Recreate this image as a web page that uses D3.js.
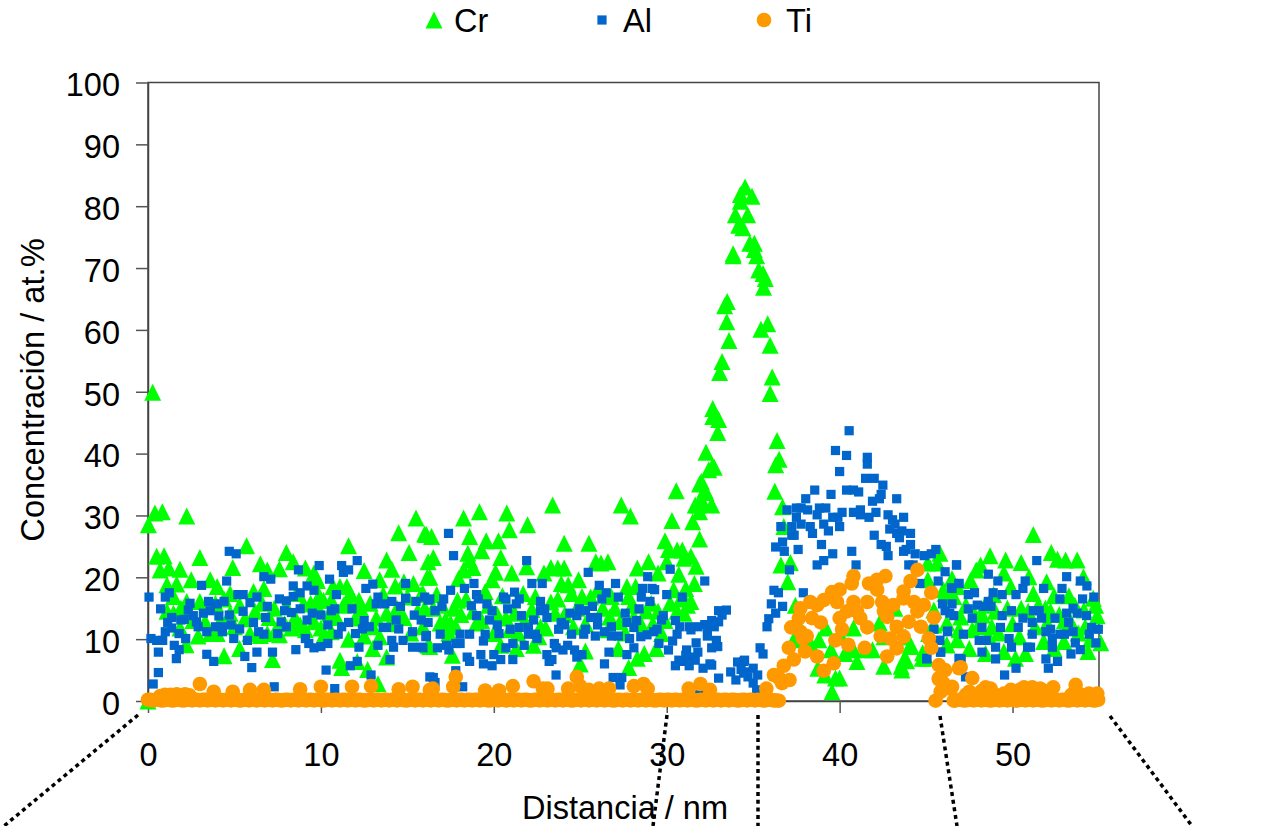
<!DOCTYPE html>
<html>
<head>
<meta charset="utf-8">
<script src="https://d3js.org/d3.v7.min.js"></script>
<style>
  body { margin: 0; background: #fff; }
  text { font-family: "Liberation Sans", Arial, sans-serif; fill: #000; }
</style>
</head>
<body>
<div id="chart"></div>
<script>
// values, [distance nm, concentration at.%]
var xTicks = [0, 10, 20, 30, 40, 50];
var yTicks = [0, 10, 20, 30, 40, 50, 60, 70, 80, 90, 100];

var crPoints = [
  [0.27,49.9],[0.02,28.5],[0.4,30.4],[0.83,30.6],[2.24,29.9],[0.5,23.4],[0.93,23.5],[0.7,21.2],[1.2,21.5],[1.85,21.3],
  [1.1,18.8],[1.66,18.9],[2.5,19.6],[3,23.2],[3.6,19.6],[4,18.5],[5.7,25.1],[4.9,21.6],[6.5,22.2],[6.9,21.2],
  [6.7,18.2],[7.6,21.4],[8,24],[8.4,22.5],[9.1,21.5],[9.7,20.1],[9.8,19.5],[10.7,18.5],[11.5,18.5],[11.6,25.1],
  [12.5,21.1],[13.8,22.8],[14.1,21.3],[14.5,27.2],[15.1,24],[15.5,29.6],[16.1,26.9],[16.2,22.5],[16.15,20],[14.3,18.6],
  [14.8,19.3],[13.4,19.6],[15.35,19],[2.2,9.1],[4.4,7.3],[5.3,8.5],[7.2,6.7],[11.1,6.6],[11.2,5.4],[12.1,6.4],
  [12.7,5.1],[13.3,2.8],[13,8.5],[13.8,7.1],[0,0],[1.47,16.9],[2.24,16.1],[3,16.1],[1.47,14.2],[1.85,11.8],
  [3.6,10.9],[4.75,17.4],[6.1,17.7],[5.9,10.9],[6.9,10.9],[7.6,10.7],[8.8,12.3],[10.15,16.3],[10,11.8],[10.6,16.3],
  [11.6,16.1],[12.85,15.8],[13.8,14.2],[13.2,13.4],[15.9,17.4],[15.9,12],[16.3,8.8],[8.6,17.4],[9.4,15.8],[9.8,15.3],
  [8,15.3],[4.75,14.2],[4,10.9],[11.1,18.5],[11.7,17.4],[12.2,16.3],[10.5,14.2],[9.6,20.7],
  [1.1,14.5],[1.9,15],[2.6,13],[2.9,10.5],[3.3,12.8],[3.9,15.8],[4.2,13],[4.4,16.5],[5,12],[5.3,15.5],
  [5.6,13.3],[6.2,14.5],[6.5,10.6],[6.6,15.8],[7,13.5],[7.3,15],[7.4,11.5],[7.9,12.5],[8.3,11.8],[8.5,13.5],
  [9,15.7],[9.1,11.5],[9.6,12.8],[9.9,17],[10.2,10.8],[10.6,11.2],[10.9,13.5],[11.3,15.5],[11.6,10],[12,13.4],
  [12.3,15],[12.5,10.5],[13,12],[13.4,10.4],[13.6,17.2],[14,12.5],[14.4,15],[14.8,13.5],[15,16.8],[15.2,11],
  [15.6,14.5],[16,15],
  [18.25,29.6],[19.17,30.6],[20.75,30.4],[21.95,28.5],[23.4,31.7],[27.37,31.7],[27.9,29.9],[30.55,34],[32,35.5],[32.27,33.7],
  [31.65,31.7],[32.1,32],[31.9,30.6],[30.3,29.2],[31.5,29],[20.9,27.7],[18.6,26.6],[16,27],[16.4,26.6],[19.56,25.9],
  [20.27,25.9],[19.3,24.3],[20.4,23.2],[18.5,23.9],[18.6,22.8],[16.5,23.2],[24.07,25.5],[25.5,25.5],[29.9,25.9],[30.1,24.5],
  [30.6,24.4],[30.9,24.4],[31.9,26.2],[31.4,23.4],[31,23.1],[31.7,21.8],[30,22.5],[25.9,22.5],[26.2,22.3],[26.6,22.5],
  [28.95,22.5],[28.3,21.5],[29.5,20.7],[30.7,20.5],[23.3,21.6],[23.7,21.5],[24.07,21.5],[22.9,20.7],[21.9,21.7],[21.04,20.7],
  [20.1,20.8],[18.8,21.6],[18.25,21.2],[17.96,19.8],[16.3,20],[19.9,19.6],[23.9,19],[24.3,18.8],[24.9,19.6],[27.7,18.5],
  [28.2,18.5],[31.1,18.2],[25.1,16.9],[24.5,17.4],[15.8,17.2],[16.7,17.2],[21.7,17.4],[22.4,16.9],[19.5,17.7],[31.4,16.1],
  [30.4,18],[26.8,16.9],[27.8,16.9],[26.7,13.6],[31,14.2],[29.1,15.8],[17.7,15],[17.9,16.3],[23.55,14.2],[20.7,13.4],
  [21.2,14.2],[17.2,13.1],[17.5,12.6],[16.9,12.6],[19,12.6],[28.1,13.6],[29.7,10.9],[20,10.9],[27.2,8.5],[25.3,8.1],
  [29.4,8.5],[28.7,7.7],[28.3,6.9],[27.8,5.4],[25,6],[22.3,9],[21.3,8.5],[20.4,9],[17.6,7.4],[16.2,9],[22.6,10.4],
  [16.5,15],[17,15.5],[17.4,11],[17.8,12],[18.1,14],[18.4,16.5],[18.8,14.5],[19.3,13],[19.7,15.5],[20.2,14],
  [20.5,17],[20.9,11.5],[21.4,11],[21.8,13],[22.2,14.8],[22.7,12],[23,11.8],[23.3,16],[23.7,16.5],[24.1,14],
  [24.6,12],[24.8,15],[25.3,12.5],[25.6,16.8],[26,18],[26.3,15],[26.6,11.5],[27,15],[27.3,12.8],[27.6,11],
  [28,15.5],[28.5,12.5],[28.8,14.6],[29.2,12.5],[29.5,14.5],[29.9,13],[30.2,15.8],[30.6,14.5],[30.8,16.5],[31.2,15.5],
  [31.6,19],
  [34.53,83.1],[34.93,81.6],[34.26,81.9],[34.26,80.8],[33.97,78.6],[34.68,78.6],[34.16,76.9],[34.4,76.5],[34.8,74],[35.07,74],
  [35.07,73],[35.2,72],[33.84,72.3],[33.84,72],[35.32,69.7],[35.57,69.1],[35.7,68.3],[35.6,66.9],[33.5,64.6],[33.35,63.9],
  [33.47,61.3],[33.6,58.3],[35.45,60.1],[35.84,61],[35.98,57.5],[33.2,54.9],[33.06,53.1],[36.1,52.4],[35.98,49.7],[32.66,47.3],
  [32.66,46],[33,45.5],[32.95,43.4],[36.38,42.1],[32.27,40.2],[36.5,39.1],[36.3,38.2],[32.43,37.4],[32.75,37.8],[32.64,37.9],
  [31.9,35.1],[32.2,34.1],[31.8,31.7],[32.6,31.7],[36.25,33.9],[36.7,31.4],[36.77,28.2],[36.6,22],[37.15,22.4],[37,19.3],
  [37.44,15.5],[37.35,9.9],[37.5,13],[38.8,9.9],[39.2,11.8],[39.5,8.3],[38.74,5.3],[39.14,4.2],[40,3.7],[39.76,3.7],
  [39.56,1.5],[41,6.4],[40.8,8.3],[40.3,7.7],[41.9,8.3],[41.5,8.3],[42.55,5.6],[43.56,5.6],[43.7,6.6],[44.1,9.1],
  [42.3,12.6],[42.56,10.4],[43.8,10.4],[43.2,15],[45,6.9],[44.8,7.8],[46.2,9.1],[46.8,9.9],[45.1,19.6],[45.8,23.9],
  [45.1,22.3],[45.65,22.3],[46.5,19.8],[46.8,18.5],[46,18],[45.45,14.7],[46.2,12.6],[45.15,10.9],[40,10.9],[38.1,10.4],
  [38.4,8.8],[40.8,11.8],
  [51.2,26.9],[52.24,24],[52.6,22.9],[53.07,22.8],[53.74,22.8],[48.7,23.5],[48.15,22],[49.6,22.8],[50.5,22.4],[47.57,19.5],
  [47.9,21.2],[49.5,20.7],[50.95,20.1],[51.97,19.3],[54.1,20.1],[54.67,16.6],[51.2,17.4],[52.4,17],[53.26,17],[54.9,13.8],
  [55.1,9.4],[54.36,8],[50.17,6.9],[50.75,7.7],[48.44,7.7],[46.2,9.1],[44.77,6.9],[43.87,6.5],[43.6,5],[44.1,8.8],
  [47.67,11.5],[48.8,12],[50.4,10.4],[51.8,9.6],[52.97,9.6],[47,13.6],[48.25,13.9],[49.9,18.5],[51.3,12],[54.13,14.7],
  [53.36,12.8],[46.1,17.4],[46.6,16.9],[52,12.6],[48.9,17.2],[45.45,12.3],
  [47.3,15.5],[47.8,14],[48.4,15.5],[48.6,10.5],[49,14.5],[49.2,11],[49.7,15],[50,12.5],[50.5,15],[50.9,14.5],
  [51.5,15.5],[51.9,15],[52.2,14.5],[52.7,14],[53,13],[53.6,15.5],[53.8,11],[54.2,12],[54.5,10],[54.8,15.5],
  [46.9,11.5],[47.5,8.5],[48,12],[49.5,8],[52.4,8.5]
];

var alPoints = [
  [0.06,16.8],[0.17,10.1],[0.5,9.8],[0.85,9.8],[0.6,7.9],[0.6,4.6],[0.3,2.75],[0.73,14.9],[1,16.8],[1.23,17.5],
  [1,11.2],[1.14,12.7],[1.37,13.5],[1.37,11.8],[1.52,9],[1.8,8.3],[1.64,6.85],[1.8,10.9],[2.18,10.1],[1.9,13.1],
  [2.1,13.2],[2.33,14.7],[2.43,15.8],[2.62,13.8],[2.8,12.8],[2.9,12],[3.1,18.7],[3.2,14.2],[3.6,14.6],[3.5,16.1],
  [3.4,11.2],[3.4,7.55],[3.8,6.4],[3.9,12],[4,15.7],[4.1,13.75],[4.3,12],[4.3,11.2],[4.4,16.1],[4.7,13.9],
  [4.55,19.4],[4.7,24.2],[5.1,23.8],[4.8,12.3],[4.96,10.1],[5.3,11.65],[5.6,7.2],[5.75,9.8],[5.5,14.5],[5.2,17.2],
  [5.5,17.2],[5.9,15.9],[6,5.4],[6.1,12.7],[6.3,7.9],[6.3,16.8],[6.4,11.2],[6.7,20.1],[7.1,19.7],[6.7,10.8],
  [6.8,13.5],[6.9,15.3],[7.2,7.9],[7.5,10.9],[7.3,2.3],[7.6,16.5],[7.7,12.8],[7.9,14.6],[8,12],[8,16.2],
  [8.3,14.3],[8.4,18.6],[8.4,16.9],[8.55,8.3],[8.7,21.2],[8.8,17.5],[8.8,14.9],[9.1,10.1],[9.2,18.6],[9.2,13.1],
  [9.3,9.3],[9.5,14.2],[9.6,17.9],[9.6,8.6],[9.9,21.9],[10,8.8],[10,13.9],[10.4,12.3],[10.4,9.3],[10.3,5],
  [10.5,19.7],[10.6,14.6],[10.8,2],[10.8,14.9],[10.9,17.2],[11,10.8],[11.2,12],[11.2,21.9],[11.3,20.8],[11.6,21.2],
  [11.6,12.7],[11.7,5.7],[11.8,14.9],[12,10.9],[12.1,22.7],[12.1,6.4],[12.2,8.7],[12.4,11.65],[12.5,13],[12.6,18.2],
  [12.8,12],[12.9,4.2],[13,18.9],[13.2,15.7],[13.3,9],[13.3,16.8],[13.6,11.9],[13.7,15.7],[13.8,11.9],[14,6.7],
  [14.1,16.1],[14.1,9.8],[14.2,8.7],[14.35,13.1],[14.5,11.65],[14.6,15.3],[14.75,9.8],[14.9,19],[14.9,16.6],[15.3,11.2],
  [15.3,8.7],[15.4,13.9],[15.5,16.1],[15.8,13.1],[15.8,8.7],[16,16.8],[16.1,10.6],[16.2,16.3],[16.3,3.9],
  [17.38,27.1],[17.67,23.5],[21.9,22.7],[25.46,20.8],[28.9,20.1],[30.2,21.3],[32.2,19.4],[22.2,19],[22.8,19],[26.1,18.7],
  [27.04,19],[28.6,18.2],[29.15,18.2],[29.3,18],[18.85,19],[18.3,18.2],[17.5,17.9],[16.3,16.5],[17.1,16.5],[17,15.3],
  [16.6,14.6],[19,17.2],[19.1,16.5],[18.7,15.4],[19.6,15.7],[19.9,14.6],[19,13.8],[19.75,13.1],[20.2,12.3],[20.3,10.9],
  [20.56,16.8],[20.7,16.5],[20.8,14.9],[21.2,17.6],[21.47,16.5],[21.3,15.7],[21.6,13.8],[20.95,11.6],[21.47,11.9],[22,11.9],
  [22.3,13.1],[22,10.8],[22.4,10.8],[22.5,10.1],[22.7,16.1],[22.94,14.9],[22.7,14.6],[23.07,13.5],[23.75,11.6],[23.9,12.7],
  [24.1,12.3],[24.4,14.2],[24.5,10.8],[24.94,14.9],[24.8,13.8],[25.3,14.6],[25.2,10.8],[25.3,11.6],[25.7,15.3],[25.6,13.5],
  [26,13.5],[26,12.3],[25.87,10.5],[26.4,11.2],[26.25,16.5],[26.5,17.5],[27.2,16.8],[26.8,12],[26.8,10.5],[27.2,10.5],
  [27.6,14.2],[27.7,12.7],[28.1,11.9],[28.26,13],[28.4,14.9],[28.53,16.8],[29.03,16.1],[27.85,10.1],[28.1,8.6],[27.7,7.5],
  [26.66,7.9],[26.4,6],[27.4,3.8],[26.9,3.8],[27.3,2.6],[23.6,4.2],[18.2,2.3],[16.5,3.8],[16.6,3],[17.8,4.9],
  [18.05,10.8],[18.6,10.8],[18.05,9.3],[17.8,9.3],[17.26,9],[17.4,8.25],[16.9,10.8],[16.74,8.6],[15.9,8.6],[16.07,10.4],
  [16.2,12.7],[18.46,7.1],[18.6,6.4],[19.25,7.5],[19.4,6],[19.9,5.7],[20,7.5],[20.4,6.7],[21.1,6.7],[19.5,10.8],
  [19.4,9.7],[20.7,8.6],[21.1,9.3],[21.76,9],[23.07,7.5],[23.2,6.4],[23.36,6.7],[23.5,9.3],[23.6,8.6],[24,8.25],
  [24.27,9],[24.67,8.25],[24.8,7.1],[25.1,7.5],[28.5,10.4],[28.86,10.7],[29.24,11.2],[29.44,11.6],[29.55,9.3],[29.7,13.1],
  [29.8,13.8],[30.1,8.25],[30.34,9.7],[30.5,13],[30.6,10.8],[30.75,12],[31.15,8.25],[31.7,9.4],[31.3,12],[31.8,7.9],
  [30.9,16.8],[30,17.2],[31.4,7.1],[30.9,6.4],[30.5,5.7],[31.3,5.7],[32.1,5.3],[32.5,6],[31.8,12],[32.35,10.5],
  [32.2,12.35],[32.6,13],[32.75,12],[33,14.6],[32.6,8.6],[32.87,9.8],[32.95,8.8],
  [33,12.8],[33.2,13.9],[33.45,14.7],[32.35,11.8],[31.4,11.5],[31.1,7.4],[31.65,6.6],[30.7,6.6],[32.6,5.8],[33,3.7],
  [31.9,1],[32.3,1.8],[33.7,4.7],[34,3.4],[34.5,4.7],[34.1,6.3],[35.2,1.8],[34.5,6.6],[34.45,6.4],[34.3,5.1],
  [35,5.3],[35.26,4.2],[35,2.9],[34.45,4.5],[34.7,3.9],
  [40.55,43.7],[39.76,40.5],[40.4,39.7],[41.6,39.4],[41.6,38.3],[40,37.1],[41.5,36],[42,36],[42.5,34.9],[38.56,34.1],
  [40.4,34.1],[40.8,34.1],[41.1,33.8],[39.5,33.4],[42.4,33.4],[42.3,32.7],[43.3,32.7],[38.04,32.7],[41.9,32.3],[36.96,30.9],
  [37.5,31.2],[37.77,31.2],[38.15,30.9],[38.83,31.2],[39.2,31.2],[38.7,30.1],[37.5,29.7],[37.77,28.6],[37.23,28.2],[36.6,28.2],
  [38.3,28.2],[38.43,27.1],[39.08,28.6],[39.35,27.5],[39.6,29.7],[39.9,29.7],[40,28.2],[40.14,30.5],[40.8,30.5],[41.2,30.9],
  [41.2,30.1],[41.7,29.7],[42.1,30.5],[42.8,30.1],[43.06,29.3],[43.7,29.7],[43.2,28.6],[42.9,27.8],[43.3,27.1],[43.6,27.5],
  [43.46,26.4],[44.1,27.1],[42,26.8],[42.4,25.3],[42.7,25],[42.8,23.5],[44.1,25.3],[43.85,24.5],[43.7,24.2],[44.37,23.8],
  [44.9,23.5],[45.3,23.8],[45.56,24.5],[37.23,26.8],[37.37,26.8],[36.7,25.7],[36.3,24.9],[36.8,24.2],[37.6,24.5],[38.95,25.3],
  [39.6,23.8],[39.08,22.7],[38.7,22],[40.7,24.2],[40.95,22],[37.1,21.2],[36.2,17.9],[36.46,17.5],[37.9,17.5],[36.05,15.7],
  [36.7,15.3],[36.3,14.2],[35.9,13.3],[35.8,12],[35.4,8.6],[35.57,7.6],[44,22],[44.25,22],[44.64,19],[45.7,19.4],
  [46.1,20.9],[46.76,22],[46.47,18.3],[46.9,19],[45.95,15.7],[46.5,15.7],[46.1,14.6],[46.37,14.2],[46.24,11.3],[45.45,11.6],
  [45.8,9.8],[45.83,7.9],[45.04,6.9],[46.9,6.9],
  [51.4,22.7],[46.76,22],[48.6,20.5],[49.15,19.4],[50.73,19.4],[53.13,20.1],[53.92,19.4],[54.3,18.6],[51.8,18.2],[52.86,18.2],
  [50.6,18.2],[46.9,19],[46.5,18.2],[47.8,17.5],[47.44,17.2],[48.88,17.5],[49.4,17.2],[50.2,17.2],[54.7,16.8],[54.05,16.5],
  [52.74,16.5],[48.6,16.1],[47.96,15.5],[47.44,14.9],[48.34,15.3],[48.75,15.3],[49.94,14.6],[51.2,14.6],[51.54,14.6],[53.5,15],
  [53.13,14.2],[53.74,14.2],[54.28,13.8],[49.4,13.8],[50.6,13.4],[52.45,13.4],[51.68,13.4],[47.67,13.4],[46.6,13.8],[51.14,12.7],
  [53.24,12.7],[48.23,11.9],[49.3,11.9],[50.33,11.9],[54.57,11.9],[54.96,11.6],[51.93,11.2],[52.2,11.6],[53.5,11.2],[46.24,11.2],
  [47.16,10.8],[51.14,10.8],[52.74,10.8],[53,10.8],[54.44,10.8],[49.8,10.1],[48.07,9.8],[48.48,9.8],[52.3,10.1],[54.82,9.4],
  [53.63,9.4],[45.72,9.8],[49.94,8.7],[49.02,8.7],[50.87,8.7],[51.04,8.7],[52.3,8.7],[53.92,8.3],[48.23,7.9],[45.85,7.9],
  [53.38,7.6],[45.04,6.8],[49.02,6.8],[47.03,6.8],[51.93,6.8],[52.6,6.4],[52.07,5.3],[50.2,5.3],[49.54,4.2],[47.28,3.9]
];

// Ti sitting on the zero line
var tiBaseline = [
  [0,0.2],[0.15,0.2],[0.3,0.1],[0.45,0.2],[0.6,0.2],[0.75,0.1],[0.9,0.1],[1.05,0.2],[1.2,0.2],[1.35,0.1],
  [1.5,0.1],[1.65,0.2],[1.8,0.2],[1.95,0.1],[2.1,0.1],[2.25,0.2],[2.4,0.2],[2.55,0.1],[2.7,0.2],[2.85,0.2],
  [3,0.1],[3.15,0.2],[3.3,0.2],[3.45,0.1],[3.6,0.2],[3.75,0.2],[3.9,0.1],[4.05,0.2],[4.2,0.2],[4.35,0.1],
  [4.5,0.2],[4.65,0.2],[4.8,0.1],[4.95,0.2],[5.1,0.2],[5.25,0.1],[5.4,0.1],[5.55,0.2],[5.7,0.2],[5.85,0.1],
  [6,0.2],[6.15,0.2],[6.3,0.1],[6.45,0.2],[6.6,0.2],[6.75,0.1],[6.9,0.2],[7.05,0.2],[7.2,0.1],[7.35,0.2],
  [7.5,0.2],[7.65,0.1],[7.8,0.1],[7.95,0.2],[8.1,0.2],[8.25,0.1],[8.4,0.2],[8.55,0.2],[8.7,0.1],[8.85,0.2],
  [9,0.2],[9.15,0.1],[9.3,0.2],[9.45,0.2],[9.6,0.1],[9.75,0.2],[9.9,0.2],[10.05,0.1],[10.2,0.1],[10.35,0.2],
  [10.5,0.2],[10.65,0.1],[10.8,0.2],[10.95,0.2],[11.1,0.1],[11.25,0.2],[11.4,0.2],[11.55,0.1],[11.7,0.2],[11.85,0.2],
  [12,0.1],[12.15,0.2],[12.3,0.2],[12.45,0.1],[12.6,0.1],[12.75,0.2],[12.9,0.2],[13.05,0.1],[13.2,0.2],[13.35,0.2],
  [13.5,0.1],[13.65,0.2],[13.8,0.2],[13.95,0.1],[14.1,0.2],[14.25,0.2],[14.4,0.1],[14.55,0.2],[14.7,0.2],[14.85,0.1],
  [15,0.1],[15.15,0.2],[15.3,0.2],[15.45,0.1],[15.6,0.2],[15.75,0.2],[15.9,0.1],[16.05,0.2],[16.2,0.2],[16.35,0.1],
  [16.5,0.2],[16.65,0.2],[16.8,0.1],[16.95,0.2],[17.1,0.2],[17.25,0.1],[17.4,0.1],[17.55,0.2],[17.7,0.2],[17.85,0.1],
  [18,0.2],[18.15,0.2],[18.3,0.1],[18.45,0.2],[18.6,0.2],[18.75,0.1],[18.9,0.2],[19.05,0.2],[19.2,0.1],[19.35,0.2],
  [19.5,0.2],[19.65,0.1],[19.8,0.1],[19.95,0.2],[20.1,0.2],[20.25,0.1],[20.4,0.2],[20.55,0.2],[20.7,0.1],[20.85,0.2],
  [21,0.2],[21.15,0.1],[21.3,0.2],[21.45,0.2],[21.6,0.1],[21.75,0.2],[21.9,0.2],[22.05,0.1],[22.2,0.1],[22.35,0.2],
  [22.5,0.2],[22.65,0.1],[22.8,0.2],[22.95,0.2],[23.1,0.1],[23.25,0.2],[23.4,0.2],[23.55,0.1],[23.7,0.2],[23.85,0.2],
  [24,0.1],[24.15,0.2],[24.3,0.2],[24.45,0.1],[24.6,0.1],[24.75,0.2],[24.9,0.2],[25.05,0.1],[25.2,0.2],[25.35,0.2],
  [25.5,0.1],[25.65,0.2],[25.8,0.2],[25.95,0.1],[26.1,0.2],[26.25,0.2],[26.4,0.1],[26.55,0.2],[26.7,0.2],[26.85,0.1],
  [27,0.1],[27.15,0.2],[27.3,0.2],[27.45,0.1],[27.6,0.2],[27.75,0.2],[27.9,0.1],[28.05,0.2],[28.2,0.2],[28.35,0.1],
  [28.5,0.2],[28.65,0.2],[28.8,0.1],[28.95,0.2],[29.1,0.2],[29.25,0.1],[29.4,0.1],[29.55,0.2],[29.7,0.2],[29.85,0.1],
  [30,0.2],[30.15,0.2],[30.3,0.1],[30.45,0.2],[30.6,0.2],[30.75,0.1],[30.9,0.2],[31.05,0.2],[31.2,0.1],[31.35,0.2],
  [31.5,0.2],[31.65,0.1],[31.8,0.1],[31.95,0.2],[32.1,0.2],[32.25,0.1],[32.4,0.2],[32.55,0.2],[32.7,0.1],[32.85,0.2],
  [33,0.2],[33.15,0.1],[33.3,0.2],[33.45,0.2],[33.6,0.1],[33.75,0.2],[33.9,0.2],[34.05,0.1],[34.2,0.1],[34.35,0.2],
  [34.5,0.2],[34.65,0.1],[34.8,0.2],[34.95,0.2],[35.1,0.1],[35.25,0.2],[35.4,0.2],[35.55,0.1],[35.7,0.1],[35.85,0.2],
  [36,0.2],[36.15,0.1],[36.3,0.1],[36.48,0.05],[45.55,0.05],
  [46.7,0.1],[46.85,0.2],[47,0.2],[47.15,0.1],[47.3,0.1],[47.45,0.2],[47.6,0.2],[47.75,0.1],[47.9,0.2],[48.05,0.2],
  [48.2,0.1],[48.35,0.2],[48.5,0.2],[48.65,0.1],[48.8,0.1],[48.95,0.2],[49.1,0.2],[49.25,0.1],[49.4,0.2],[49.55,0.2],
  [49.7,0.1],[49.85,0.2],[50,0.2],[50.15,0.1],[50.3,0.1],[50.45,0.2],[50.6,0.2],[50.75,0.1],[50.9,0.2],[51.05,0.2],
  [51.2,0.1],[51.35,0.2],[51.5,0.2],[51.65,0.1],[51.8,0.1],[51.95,0.2],[52.1,0.2],[52.25,0.1],[52.4,0.2],[52.55,0.2],
  [52.7,0.1],[52.85,0.2],[53,0.2],[53.15,0.1],[53.3,0.1],[53.45,0.2],[53.6,0.2],[53.75,0.1],[53.9,0.2],[54.05,0.2],
  [54.2,0.1],[54.35,0.2],[54.5,0.2],[54.65,0.1],[54.8,0.1],[54.95,0.2]
];

// Ti above the zero line
var tiPoints = [
  [0.98,1],[0.7,0.8],[1.3,1],[1.66,1.1],[2.14,1.1],[2.4,0.9],[3,2.75],[3.8,1.5],[4.9,1.5],[5.9,1.8],[6.7,1.8],[8.8,1.9],[10,2.3],
  [11.8,2.3],[12.9,2.4],[14.5,1.9],[15.3,2.3],[16.3,1.8],[16.47,2],[17.8,3.9],[17.65,2.3],[19.5,1.7],[20.3,1.7],
  [21.1,2.4],[22.3,3.2],[22.84,2],[23.1,2],[24.3,2],[24.8,3.9],[25,2.4],[25.5,1.8],[26.1,2],[26.66,2],
  [28.1,2.4],[28.66,2.75],[28.9,2],[31.27,2],[31.95,2.75],[32.5,1.8],[35.76,2],
  [40.8,20.2],[40.7,19],[42.65,20.2],[42.17,19.6],[41.7,19],[42.17,18],[44.5,21.2],[44.1,19.4],[43.7,17.7],[43.7,16.6],
  [45.3,17.5],[40,18],[39.56,17.6],[39.08,16.3],[39.85,16],[40.8,16],[41.6,16],[38.3,16],[38.7,15.5],[37.73,15],
  [42.46,16],[43.1,15.5],[44.3,16],[44.87,15.5],[42.56,14.5],[44.5,14.5],[40.43,14.5],[41,14.5],[40,13.4],[41.2,13.4],
  [42.75,13.6],[45.45,13.5],[37.64,13.4],[38.4,13.4],[38.9,12.7],[44,12.8],[43.3,12],[44.7,12],[37.2,11.9],[41.6,11.9],
  [40.14,11.6],[37.73,11.2],[38.1,10.5],[37.87,10.1],[42.37,10.5],[42.94,10.1],[43.7,10.4],[45.16,10.1],[39.76,9.8],[40.5,9.1],
  [41.45,8.6],[37.06,8.6],[38,8],[38.7,7.2],[43.3,8.5],[42.75,7.2],[45.3,8.6],[37.35,6.7],[36.77,5.7],[39.66,6.1],
  [39.08,4.9],[36.2,4.2],[36.5,3.7],[37.1,3.4],[36.67,2.9],
  [45.74,5.8],[46.1,5],[46.9,5.3],[45.74,3.7],[46,2.9],[46.4,2],[46.6,0.05],
  [47,5.45],[47.67,3.7],[45.74,3.5],[46.5,2.3],[45.84,1.5],[47.3,1],[47.5,1.5],[47.9,1],[48.2,1.6],[48.44,2.2],[48.73,2],[48.9,1.2],[49.5,1.2],[49.9,1.8],
  [50,1.5],[50.4,1.8],[50.66,2.2],[50.9,1.8],[51.14,2.2],[51.4,1.8],[51.6,2],[51.9,1.6],[52.2,1.6],[52.35,2.2],[53.4,1],[53.65,2.6],[54,1],[54.42,1.2],[54.6,1],[54.9,1.2]
];

var legendItems = ["Cr", "Al", "Ti"];

var colors = {Cr: "#00ff00", Al: "#0066cc", Ti: "#ff9900"};

// excel style triangle, centred on half its height
var triangleMark = {
  draw: function(ctx, size) {
    var w = Math.sqrt(size);
    ctx.moveTo(0, -w / 2);
    ctx.lineTo(w / 2, w / 2);
    ctx.lineTo(-w / 2, w / 2);
    ctx.closePath();
  }
};
var symbols = {
  Cr: d3.symbol().type(triangleMark).size(289)(),
  Al: d3.symbol().type(d3.symbolSquare).size(85)(),
  Ti: d3.symbol().type(d3.symbolCircle).size(168)()
};

var margin = {top: 82.5, right: 171, bottom: 125, left: 148},
    width = 1270 - margin.left - margin.right,
    height = 826 - margin.top - margin.bottom;

var x = d3.scaleLinear().domain([0, 55]).range([0, width]);
var y = d3.scaleLinear().domain([0, 100]).range([height, 0]);

var svg = d3.select("#chart").append("svg")
    .attr("width", 1270)
    .attr("height", 826)
    .style("display", "block");

// dotted guides running out of the bottom of the plot
var guides = [
  [138, 715, 4, 826],
  [667, 715, 653, 826],
  [758, 715, 758, 826],
  [940, 716, 957, 826],
  [1110, 716, 1192, 826]
];
svg.selectAll(".guide").data(guides).enter().append("line")
    .attr("class", "guide")
    .attr("x1", function(d) { return d[0]; })
    .attr("y1", function(d) { return d[1]; })
    .attr("x2", function(d) { return d[2]; })
    .attr("y2", function(d) { return d[3]; })
    .attr("stroke", "#000")
    .attr("stroke-width", 3.5)
    .attr("stroke-dasharray", "4 3.7");

var g = svg.append("g")
    .attr("transform", "translate(" + margin.left + "," + margin.top + ")");

// plot frame
g.append("rect")
    .attr("width", width)
    .attr("height", height)
    .attr("fill", "none")
    .attr("stroke", "#444")
    .attr("stroke-width", 1.5);

// axes
var xAxis = g.append("g")
    .attr("transform", "translate(0," + height + ")")
    .call(d3.axisBottom(x).tickValues(xTicks).tickSize(12).tickPadding(29.5).tickSizeOuter(0));
var yAxis = g.append("g")
    .call(d3.axisLeft(y).tickValues(yTicks).tickSize(12).tickPadding(16).tickSizeOuter(0));
yAxis.selectAll("text").attr("dy", "0.41em");
[xAxis, yAxis].forEach(function(a) {
  a.selectAll("text").style("font-size", "32.5px").style("font-family", '"Liberation Sans", Arial, sans-serif').attr("fill", "#000");
  a.selectAll("line").attr("stroke", "#555").attr("stroke-width", 1.5);
  a.select(".domain").attr("stroke", "#444").attr("stroke-width", 1.5);
});

// the three series, Ti last since it sits on top
function drawSeries(data, name) {
  g.append("g").selectAll("path").data(data).enter().append("path")
      .attr("d", symbols[name])
      .attr("fill", colors[name])
      .attr("transform", function(d) {
        return "translate(" + x(d[0]) + "," + y(d[1]) + ")";
      });
}
drawSeries(crPoints, "Cr");
drawSeries(alPoints, "Al");
drawSeries(tiBaseline, "Ti");
drawSeries(tiPoints, "Ti");

// axis titles
svg.append("text")
    .attr("x", 625)
    .attr("y", 819)
    .attr("text-anchor", "middle")
    .style("font-size", "32.5px")
    .text("Distancia / nm");
svg.append("text")
    .attr("transform", "translate(43.5,390) rotate(-90)")
    .attr("text-anchor", "middle")
    .style("font-size", "32.7px")
    .text("Concentración / at.%");

// legend
var legendX = {Cr: 434, Al: 602, Ti: 764};
var labelX = {Cr: 454, Al: 623, Ti: 786};
legendItems.forEach(function(name) {
  svg.append("path")
      .attr("d", symbols[name])
      .attr("fill", colors[name])
      .attr("transform", "translate(" + legendX[name] + ",20)");
  svg.append("text")
      .attr("x", labelX[name])
      .attr("y", 32)
      .style("font-size", "32.5px")
      .text(name);
});
</script>
</body>
</html>
